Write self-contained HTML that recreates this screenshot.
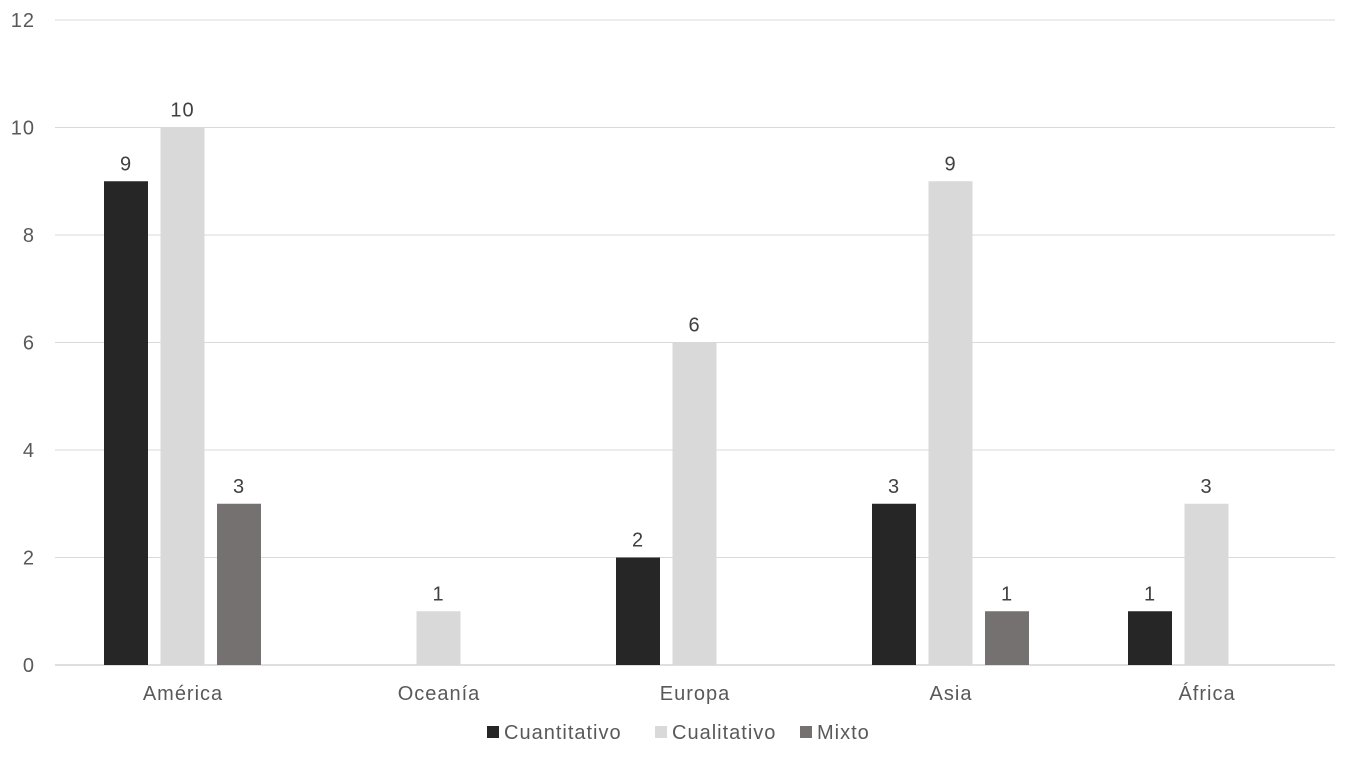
<!DOCTYPE html>
<html><head><meta charset="utf-8"><style>
body{margin:0;background:#fff;font-family:"Liberation Sans",sans-serif;}
svg text{font-family:"Liberation Sans",sans-serif;letter-spacing:1px;}
</style></head><body>
<svg id="chart" width="1350" height="759"></svg>
<script>
const categories=["América","Oceanía","Europa","Asia","África"];
const cuantitativo=[9,0,2,3,1];
const cualitativo=[10,1,6,9,3];
const mixto=[3,0,0,1,0];
const yTicks=[0,2,4,6,8,10,12];
const seriesNames=["Cuantitativo","Cualitativo","Mixto"];
const seriesColors=["#262626","#d9d9d9","#767171"];
const svg=document.getElementById('chart');
const NS='http://www.w3.org/2000/svg';
const x0=55,x1=1335,yBase=665,yTop=20,yMax=12;
const y=v=>yBase-(yBase-yTop)*v/yMax;
const bandW=(x1-x0)/categories.length;
const bx=(i,s)=>x0+bandW*i+bandW/2-79+s*56.5;
function mk(tag,attrs,txt){const e=document.createElementNS(NS,tag);for(const k in attrs)e.setAttribute(k,attrs[k]);if(txt!==undefined)e.textContent=txt;svg.appendChild(e);return e;}
yTicks.forEach(t=>{
  const l=mk('line',{x1:x0,x2:x1,y1:y(t),y2:y(t),stroke:t===0?'#bfbfbf':'#d9d9d9','stroke-width':1});
  
  
  const tx=mk('text',{x:35,y:y(t)+7,'text-anchor':'end','font-size':20,fill:'#595959'},t);
  
  
});
const series=[cuantitativo,cualitativo,mixto];
categories.forEach((c,i)=>{
  const t=mk('text',{x:x0+bandW*i+bandW/2,y:700,'text-anchor':'middle','font-size':20,fill:'#595959'},c);
  
  
  series.forEach((arr,s)=>{
    const v=arr[i];if(!v)return;
    const r=mk('rect',{x:bx(i,s),y:y(v),width:44,height:yBase-y(v),fill:seriesColors[s]});
    
    
    const lb=mk('text',{x:bx(i,s)+22,y:y(v)-11,'text-anchor':'middle','font-size':20,fill:'#404040'},v);
    
    
  });
});
const legX=[487,655,800];
seriesNames.forEach((n,s)=>{
  const r=mk('rect',{x:legX[s],y:726,width:12,height:12,fill:seriesColors[s]});
  
  
  const t=mk('text',{x:legX[s]+17,y:739,'font-size':20,fill:'#595959'},n);
  
  
});
</script>
</body></html>
